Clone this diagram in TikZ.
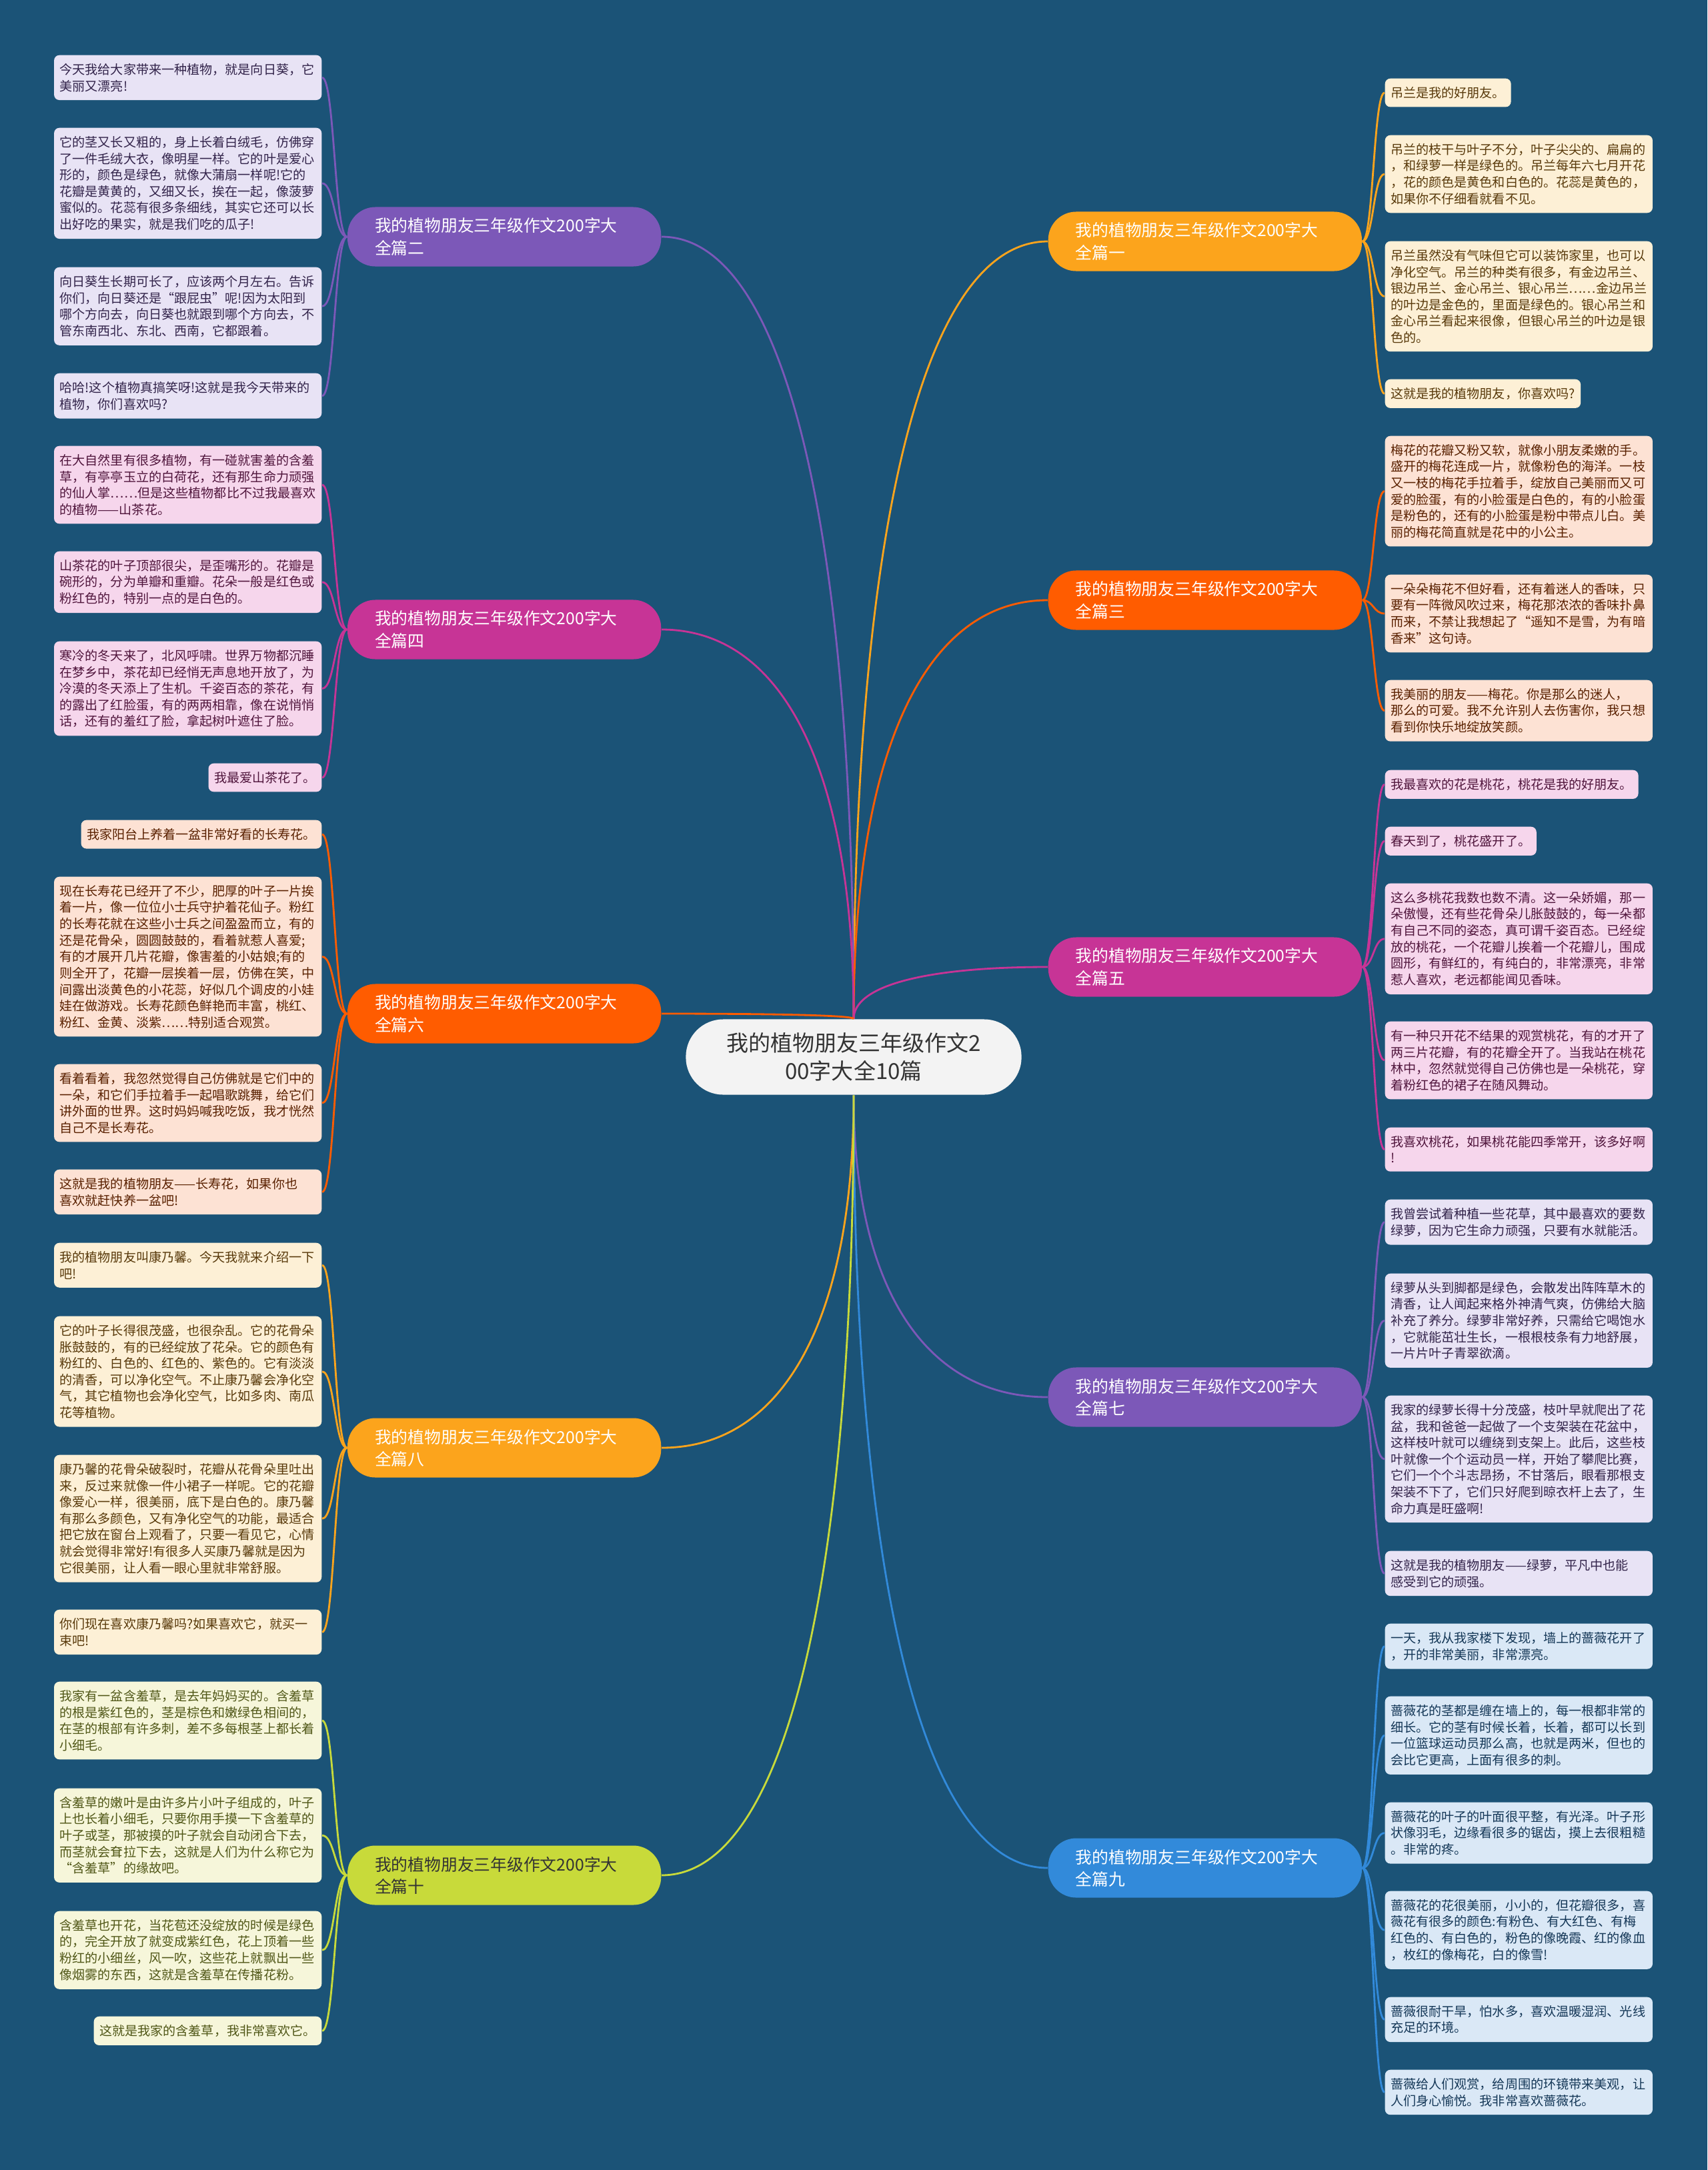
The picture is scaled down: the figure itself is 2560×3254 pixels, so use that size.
\documentclass[tikz,border=0pt]{standalone}
\usepackage{fontspec}
\setmainfont{Noto Sans CJK SC}
\usetikzlibrary{calc}

\definecolor{bg}{RGB}{27,83,119}
\definecolor{colA}{RGB}{252,164,28}
\definecolor{colB}{RGB}{124,88,184}
\definecolor{colC}{RGB}{255,92,0}
\definecolor{colD}{RGB}{199,52,150}
\definecolor{colE}{RGB}{50,138,218}
\definecolor{colF}{RGB}{200,218,58}
\definecolor{fillA}{RGB}{253,240,214}
\definecolor{fillB}{RGB}{232,227,245}
\definecolor{fillC}{RGB}{253,226,212}
\definecolor{fillD}{RGB}{246,214,236}
\definecolor{fillE}{RGB}{218,232,246}
\definecolor{fillF}{RGB}{246,246,218}
\definecolor{rootfill}{RGB}{243,243,243}
\definecolor{rootink}{RGB}{51,51,51}

\newcommand\rootfont{\fontsize{9.4pt}{11.95pt}\selectfont}
\newcommand\sectfont{\fontsize{7.05pt}{9.4pt}\selectfont}
\newcommand\leaffont{\fontsize{5.43pt}{7pt}\selectfont}

\begin{document}
\begin{tikzpicture}[x=0.01cm, y=-0.01cm]
  \tikzset{
    rootbox/.style={rectangle, rounded corners=0.56cm, fill=rootfill, text=rootink, minimum width=5.03cm, minimum height=1.13cm, align=center, font=\rootfont},
    sectbox/.style={rectangle, rounded corners=0.42cm, text width=3.88cm, inner xsep=0.41cm, minimum height=0.89cm, align=left, font=\sectfont, text=white},
    leafbox/.style={rectangle, rounded corners=0.08cm, inner xsep=0.085cm, inner ysep=0.125cm, align=left, font=\leaffont},
    fullw/.style={text width=3.84cm},
    leafA/.style={leafbox, fill=fillA, text=colA!35!black},
    leafB/.style={leafbox, fill=fillB, text=colB!40!black},
    leafC/.style={leafbox, fill=fillC, text=colC!35!black},
    leafD/.style={leafbox, fill=fillD, text=colD!40!black},
    leafE/.style={leafbox, fill=fillE, text=colE!40!black},
    leafF/.style={leafbox, fill=fillF, text=colF!40!black},
    limb/.style={line width=0.8pt},
    twig/.style={line width=0.8pt}
  }

  \fill[bg] (0,0) rectangle (2560,3254);
  \useasboundingbox (0,0) rectangle (2560,3254);

  % centre
  \node[rootbox] (root) at (1280,1585) {我的植物朋友三年级作文2\\00字大全10篇};

  % sections
  \node[sectbox, fill=colA, anchor=west] (b1) at (1571,362) {我的植物朋友三年级作文200字大\\全篇一};
  \node[sectbox, fill=colC, anchor=west] (b3) at (1571,900) {我的植物朋友三年级作文200字大\\全篇三};
  \node[sectbox, fill=colD, anchor=west] (b5) at (1571,1450) {我的植物朋友三年级作文200字大\\全篇五};
  \node[sectbox, fill=colB, anchor=west] (b7) at (1571,2095) {我的植物朋友三年级作文200字大\\全篇七};
  \node[sectbox, fill=colE, anchor=west] (b9) at (1571,2801) {我的植物朋友三年级作文200字大\\全篇九};
  \node[sectbox, fill=colB, anchor=east] (b2) at (992,355) {我的植物朋友三年级作文200字大\\全篇二};
  \node[sectbox, fill=colD, anchor=east] (b4) at (992,944) {我的植物朋友三年级作文200字大\\全篇四};
  \node[sectbox, fill=colC, anchor=east] (b6) at (992,1520) {我的植物朋友三年级作文200字大\\全篇六};
  \node[sectbox, fill=colA, anchor=east] (b8) at (992,2171) {我的植物朋友三年级作文200字大\\全篇八};
  \node[sectbox, fill=colF, text=rootink, anchor=east] (b10) at (992,2812) {我的植物朋友三年级作文200字大\\全篇十};

  % left leaves
  \node[leafB, fullw, anchor=north east] (b2a) at (483,82) {今天我给大家带来一种植物，就是向日葵，它\\美丽又漂亮!};
  \node[leafB, fullw, anchor=north east] (b2b) at (483,191) {它的茎又长又粗的，身上长着白绒毛，仿佛穿\\了一件毛绒大衣，像明星一样。它的叶是爱心\\形的，颜色是绿色，就像大蒲扇一样呢!它的\\花瓣是黄黄的，又细又长，挨在一起，像菠萝\\蜜似的。花蕊有很多条细线，其实它还可以长\\出好吃的果实，就是我们吃的瓜子!};
  \node[leafB, fullw, anchor=north east] (b2c) at (483,400) {向日葵生长期可长了，应该两个月左右。告诉\\你们，向日葵还是“跟屁虫”呢!因为太阳到\\哪个方向去，向日葵也就跟到哪个方向去，不\\管东南西北、东北、西南，它都跟着。};
  \node[leafB, fullw, anchor=north east] (b2d) at (483,559) {哈哈!这个植物真搞笑呀!这就是我今天带来的\\植物，你们喜欢吗?};

  \node[leafD, fullw, anchor=north east] (b4a) at (483,668) {在大自然里有很多植物，有一碰就害羞的含羞\\草，有亭亭玉立的白荷花，还有那生命力顽强\\的仙人掌……但是这些植物都比不过我最喜欢\\的植物——山茶花。};
  \node[leafD, fullw, anchor=north east] (b4b) at (483,826) {山茶花的叶子顶部很尖，是歪嘴形的。花瓣是\\碗形的，分为单瓣和重瓣。花朵一般是红色或\\粉红色的，特别一点的是白色的。};
  \node[leafD, fullw, anchor=north east] (b4c) at (483,961) {寒冷的冬天来了，北风呼啸。世界万物都沉睡\\在梦乡中，茶花却已经悄无声息地开放了，为\\冷漠的冬天添上了生机。千姿百态的茶花，有\\的露出了红脸蛋，有的两两相靠，像在说悄悄\\话，还有的羞红了脸，拿起树叶遮住了脸。};
  \node[leafD, anchor=north east] (b4d) at (483,1144) {我最爱山茶花了。};

  \node[leafC, anchor=north east] (b6a) at (483,1229) {我家阳台上养着一盆非常好看的长寿花。};
  \node[leafC, fullw, anchor=north east] (b6b) at (483,1314) {现在长寿花已经开了不少，肥厚的叶子一片挨\\着一片，像一位位小士兵守护着花仙子。粉红\\的长寿花就在这些小士兵之间盈盈而立，有的\\还是花骨朵，圆圆鼓鼓的，看着就惹人喜爱;\\有的才展开几片花瓣，像害羞的小姑娘;有的\\则全开了，花瓣一层挨着一层，仿佛在笑，中\\间露出淡黄色的小花蕊，好似几个调皮的小娃\\娃在做游戏。长寿花颜色鲜艳而丰富，桃红、\\粉红、金黄、淡紫……特别适合观赏。};
  \node[leafC, fullw, anchor=north east] (b6c) at (483,1595) {看着看着，我忽然觉得自己仿佛就是它们中的\\一朵，和它们手拉着手一起唱歌跳舞，给它们\\讲外面的世界。这时妈妈喊我吃饭，我才恍然\\自己不是长寿花。};
  \node[leafC, fullw, anchor=north east] (b6d) at (483,1753) {这就是我的植物朋友——长寿花，如果你也\\喜欢就赶快养一盆吧!};

  \node[leafA, fullw, anchor=north east] (b8a) at (483,1863) {我的植物朋友叫康乃馨。今天我就来介绍一下\\吧!};
  \node[leafA, fullw, anchor=north east] (b8b) at (483,1973) {它的叶子长得很茂盛，也很杂乱。它的花骨朵\\胀鼓鼓的，有的已经绽放了花朵。它的颜色有\\粉红的、白色的、红色的、紫色的。它有淡淡\\的清香，可以净化空气。不止康乃馨会净化空\\气，其它植物也会净化空气，比如多肉、南瓜\\花等植物。};
  \node[leafA, fullw, anchor=north east] (b8c) at (483,2181) {康乃馨的花骨朵破裂时，花瓣从花骨朵里吐出\\来，反过来就像一件小裙子一样呢。它的花瓣\\像爱心一样，很美丽，底下是白色的。康乃馨\\有那么多颜色，又有净化空气的功能，最适合\\把它放在窗台上观看了，只要一看见它，心情\\就会觉得非常好!有很多人买康乃馨就是因为\\它很美丽，让人看一眼心里就非常舒服。};
  \node[leafA, fullw, anchor=north east] (b8d) at (483,2413) {你们现在喜欢康乃馨吗?如果喜欢它，就买一\\束吧!};

  \node[leafF, fullw, anchor=north east] (b10a) at (483,2521) {我家有一盆含羞草，是去年妈妈买的。含羞草\\的根是紫红色的，茎是棕色和嫩绿色相间的，\\在茎的根部有许多刺，差不多每根茎上都长着\\小细毛。};
  \node[leafF, fullw, anchor=north east] (b10b) at (483,2681) {含羞草的嫩叶是由许多片小叶子组成的，叶子\\上也长着小细毛，只要你用手摸一下含羞草的\\叶子或茎，那被摸的叶子就会自动闭合下去，\\而茎就会耷拉下去，这就是人们为什么称它为\\“含羞草”的缘故吧。};
  \node[leafF, fullw, anchor=north east] (b10c) at (483,2865) {含羞草也开花，当花苞还没绽放的时候是绿色\\的，完全开放了就变成紫红色，花上顶着一些\\粉红的小细丝，风一吹，这些花上就飘出一些\\像烟雾的东西，这就是含羞草在传播花粉。};
  \node[leafF, anchor=north east] (b10d) at (483,3023) {这就是我家的含羞草，我非常喜欢它。};

  % right leaves
  \node[leafA, anchor=north west] (b1a) at (2076,117) {吊兰是我的好朋友。};
  \node[leafA, fullw, anchor=north west] (b1b) at (2076,202) {吊兰的枝干与叶子不分，叶子尖尖的、扁扁的\\，和绿萝一样是绿色的。吊兰每年六七月开花\\，花的颜色是黄色和白色的。花蕊是黄色的，\\如果你不仔细看就看不见。};
  \node[leafA, fullw, anchor=north west] (b1c) at (2076,361) {吊兰虽然没有气味但它可以装饰家里，也可以\\净化空气。吊兰的种类有很多，有金边吊兰、\\银边吊兰、金心吊兰、银心吊兰……金边吊兰\\的叶边是金色的，里面是绿色的。银心吊兰和\\金心吊兰看起来很像，但银心吊兰的叶边是银\\色的。};
  \node[leafA, anchor=north west] (b1d) at (2076,568) {这就是我的植物朋友，你喜欢吗?};

  \node[leafC, fullw, anchor=north west] (b3a) at (2076,653) {梅花的花瓣又粉又软，就像小朋友柔嫩的手。\\盛开的梅花连成一片，就像粉色的海洋。一枝\\又一枝的梅花手拉着手，绽放自己美丽而又可\\爱的脸蛋，有的小脸蛋是白色的，有的小脸蛋\\是粉色的，还有的小脸蛋是粉中带点儿白。美\\丽的梅花简直就是花中的小公主。};
  \node[leafC, fullw, anchor=north west] (b3b) at (2076,861) {一朵朵梅花不但好看，还有着迷人的香味，只\\要有一阵微风吹过来，梅花那浓浓的香味扑鼻\\而来，不禁让我想起了“遥知不是雪，为有暗\\香来”这句诗。};
  \node[leafC, fullw, anchor=north west] (b3c) at (2076,1019) {我美丽的朋友——梅花。你是那么的迷人，\\那么的可爱。我不允许别人去伤害你，我只想\\看到你快乐地绽放笑颜。};

  \node[leafD, anchor=north west] (b5a) at (2076,1154) {我最喜欢的花是桃花，桃花是我的好朋友。};
  \node[leafD, anchor=north west] (b5b) at (2076,1239) {春天到了，桃花盛开了。};
  \node[leafD, fullw, anchor=north west] (b5c) at (2076,1324) {这么多桃花我数也数不清。这一朵娇媚，那一\\朵傲慢，还有些花骨朵儿胀鼓鼓的，每一朵都\\有自己不同的姿态，真可谓千姿百态。已经绽\\放的桃花，一个花瓣儿挨着一个花瓣儿，围成\\圆形，有鲜红的，有纯白的，非常漂亮，非常\\惹人喜欢，老远都能闻见香味。};
  \node[leafD, fullw, anchor=north west] (b5d) at (2076,1531) {有一种只开花不结果的观赏桃花，有的才开了\\两三片花瓣，有的花瓣全开了。当我站在桃花\\林中，忽然就觉得自己仿佛也是一朵桃花，穿\\着粉红色的裙子在随风舞动。};
  \node[leafD, fullw, anchor=north west] (b5e) at (2076,1690) {我喜欢桃花，如果桃花能四季常开，该多好啊\\!};

  \node[leafB, fullw, anchor=north west] (b7a) at (2076,1798) {我曾尝试着种植一些花草，其中最喜欢的要数\\绿萝，因为它生命力顽强，只要有水就能活。};
  \node[leafB, fullw, anchor=north west] (b7b) at (2076,1909) {绿萝从头到脚都是绿色，会散发出阵阵草木的\\清香，让人闻起来格外神清气爽，仿佛给大脑\\补充了养分。绿萝非常好养，只需给它喝饱水\\，它就能茁壮生长，一根根枝条有力地舒展，\\一片片叶子青翠欲滴。};
  \node[leafB, fullw, anchor=north west] (b7c) at (2076,2092) {我家的绿萝长得十分茂盛，枝叶早就爬出了花\\盆，我和爸爸一起做了一个支架装在花盆中，\\这样枝叶就可以缠绕到支架上。此后，这些枝\\叶就像一个个运动员一样，开始了攀爬比赛，\\它们一个个斗志昂扬，不甘落后，眼看那根支\\架装不下了，它们只好爬到晾衣杆上去了，生\\命力真是旺盛啊!};
  \node[leafB, fullw, anchor=north west] (b7d) at (2076,2325) {这就是我的植物朋友——绿萝，平凡中也能\\感受到它的顽强。};

  \node[leafE, fullw, anchor=north west] (b9a) at (2076,2434) {一天，我从我家楼下发现，墙上的蔷薇花开了\\，开的非常美丽，非常漂亮。};
  \node[leafE, fullw, anchor=north west] (b9b) at (2076,2543) {蔷薇花的茎都是缠在墙上的，每一根都非常的\\细长。它的茎有时候长着，长着，都可以长到\\一位篮球运动员那么高，也就是两米，但也的\\会比它更高，上面有很多的刺。};
  \node[leafE, fullw, anchor=north west] (b9c) at (2076,2702) {蔷薇花的叶子的叶面很平整，有光泽。叶子形\\状像羽毛，边缘看很多的锯齿，摸上去很粗糙\\。非常的疼。};
  \node[leafE, fullw, anchor=north west] (b9d) at (2076,2835) {蔷薇花的花很美丽，小小的，但花瓣很多，喜\\薇花有很多的颜色:有粉色、有大红色、有梅\\红色的、有白色的，粉色的像晚霞、红的像血\\，枚红的像梅花，白的像雪!};
  \node[leafE, fullw, anchor=north west] (b9e) at (2076,2994) {蔷薇很耐干旱，怕水多，喜欢温暖湿润、光线\\充足的环境。};
  \node[leafE, fullw, anchor=north west] (b9f) at (2076,3103) {蔷薇给人们观赏，给周围的环镜带来美观，让\\人们身心愉悦。我非常喜欢蔷薇花。};

  % centre to sections
  \foreach \s/\a/\p/\c in {b1/west/north/colA, b2/east/north/colB, b3/west/north/colC, b4/east/north/colD, b5/west/north/colD, b6/east/north/colC, b7/west/south/colB, b8/east/south/colA, b9/west/south/colE, b10/east/south/colF}
    \draw[limb, draw=\c] (root.\p) .. controls ($(root.\p)!0.62!(root.\p|-\s.\a)$) and ($(root.\p|-\s.\a)!0.35!(\s.\a)$) .. (\s.\a);

  % sections to leaves
  \foreach \s/\a/\t/\c/\ls in {b1/east/west/colA/{b1a,b1b,b1c,b1d}, b2/west/east/colB/{b2a,b2b,b2c,b2d}, b3/east/west/colC/{b3a,b3b,b3c}, b4/west/east/colD/{b4a,b4b,b4c,b4d}, b5/east/west/colD/{b5a,b5b,b5c,b5d,b5e}, b6/west/east/colC/{b6a,b6b,b6c,b6d}, b7/east/west/colB/{b7a,b7b,b7c,b7d}, b8/west/east/colA/{b8a,b8b,b8c,b8d}, b9/east/west/colE/{b9a,b9b,b9c,b9d,b9e,b9f}, b10/west/east/colF/{b10a,b10b,b10c,b10d}}
    \foreach \l in \ls
      \draw[twig, draw=\c] (\s.\a) .. controls ($(\s.\a)!0.5!(\s.\a-|\l.\t)$) and ($(\l.\t)!0.5!(\l.\t-|\s.\a)$) .. (\l.\t);
\end{tikzpicture}
\end{document}
